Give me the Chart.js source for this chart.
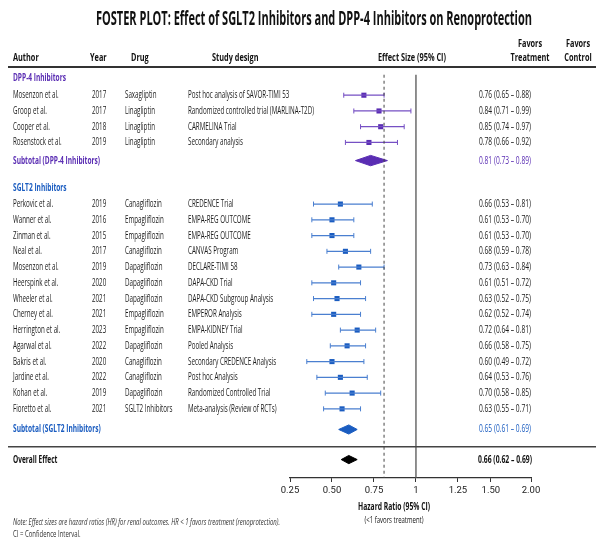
<!DOCTYPE html>
<html>
<head>
<meta charset="utf-8">
<script src="https://cdn.jsdelivr.net/npm/chart.js@4.4.0/dist/chart.umd.min.js"></script>
<style>
  html, body { margin: 0; padding: 0; background: #fff; }
  #wrap { width: 598px; height: 539px; position: relative; }
</style>
</head>
<body>
<div id="wrap"><canvas id="forest"></canvas></div>
<script>
// DPP-4 studies
const dppAuthors = ['Mosenzon et al.', 'Groop et al.', 'Cooper et al.', 'Rosenstock et al.'];
const dppYears = ['2017', '2017', '2018', '2019'];
const dppDrugs = ['Saxagliptin', 'Linagliptin', 'Linagliptin', 'Linagliptin'];
const dppDesigns = ['Post hoc analysis of SAVOR-TIMI 53', 'Randomized controlled trial (MARLINA-T2D)', 'CARMELINA Trial', 'Secondary analysis'];
const dppText = ['0.76 (0.65 – 0.88)', '0.84 (0.71 – 0.99)', '0.85 (0.74 – 0.97)', '0.78 (0.66 – 0.92)'];
// where the marks sit on the axis in the picture
const dppHR = [0.69, 0.78, 0.79, 0.72];
const dppLow = [0.57, 0.63, 0.67, 0.58];
const dppHigh = [0.81, 0.97, 0.93, 0.89];

// SGLT2 studies
const sgAuthors = ['Perkovic et al.', 'Wanner et al.', 'Zinman et al.', 'Neal et al.', 'Mosenzon et al.', 'Heerspink et al.', 'Wheeler et al.',
  'Cherney et al.', 'Herrington et al.', 'Agarwal et al.', 'Bakris et al.', 'Jardine et al.', 'Kohan et al.', 'Fioretto et al.'];
const sgYears = ['2019', '2016', '2015', '2017', '2019', '2020', '2021', '2021', '2023', '2022', '2020', '2022', '2019', '2021'];
const sgDrugs = ['Canagliflozin', 'Empagliflozin', 'Empagliflozin', 'Canagliflozin', 'Dapagliflozin', 'Dapagliflozin', 'Dapagliflozin',
  'Empagliflozin', 'Empagliflozin', 'Dapagliflozin', 'Canagliflozin', 'Canagliflozin', 'Dapagliflozin', 'SGLT2 Inhibitors'];
const sgDesigns = ['CREDENCE Trial', 'EMPA-REG OUTCOME', 'EMPA-REG OUTCOME', 'CANVAS Program', 'DECLARE-TIMI 58', 'DAPA-CKD Trial',
  'DAPA-CKD Subgroup Analysis', 'EMPEROR Analysis', 'EMPA-KIDNEY Trial', 'Pooled Analysis', 'Secondary CREDENCE Analysis',
  'Post hoc Analysis', 'Randomized Controlled Trial', 'Meta-analysis (Review of RCTs)'];
const sgText = ['0.66 (0.53 – 0.81)', '0.61 (0.53 – 0.70)', '0.61 (0.53 – 0.70)', '0.68 (0.59 – 0.78)', '0.73 (0.63 – 0.84)',
  '0.61 (0.51 – 0.72)', '0.63 (0.52 – 0.75)', '0.62 (0.52 – 0.74)', '0.72 (0.64 – 0.81)', '0.66 (0.58 – 0.75)',
  '0.60 (0.49 – 0.72)', '0.64 (0.53 – 0.76)', '0.70 (0.58 – 0.85)', '0.63 (0.55 – 0.71)'];
const sgHR = [0.55, 0.50, 0.50, 0.58, 0.66, 0.51, 0.53, 0.51, 0.65, 0.59, 0.50, 0.55, 0.62, 0.56];
const sgLow = [0.39, 0.38, 0.38, 0.47, 0.54, 0.38, 0.39, 0.38, 0.55, 0.49, 0.35, 0.41, 0.46, 0.45];
const sgHigh = [0.74, 0.63, 0.63, 0.73, 0.81, 0.67, 0.70, 0.67, 0.76, 0.70, 0.69, 0.71, 0.79, 0.67];

// pooled estimates [low, point, high]
const dppPooled = [0.64, 0.73, 0.83];
const sgPooled = [0.54, 0.60, 0.65];
const allPooled = [0.555, 0.60, 0.65];
const dppPooledText = '0.81 (0.73 – 0.89)';
const sgPooledText = '0.65 (0.61 – 0.69)';
const allPooledText = '0.66 (0.62 – 0.69)';

// axis
const tickValues = [0.25, 0.5, 0.75, 1, 1.25, 1.446, 1.685];
const tickLabels = ['0.25', '0.50', '0.75', '1', '1.25', '1.50', '2.00'];
const refDashed = 0.81;
const refNull = 1;

const PURPLE = '#5a2db3';
const PURPLE_LINE = '#7650c4';
const BLUE = '#1a5cc0';
const BLUE_LINE = '#4a7fd0';
const FONT = '"Open Sans", "Noto Sans", sans-serif';
const TICKFONT = 'Roboto, "Open Sans", sans-serif';

// row layout (in row units from top of plot area)
let r = 0.5;
const rowDppHead = r;
r += 1.1;
const dppRows = dppAuthors.map((_, i) => r + i);
r += dppAuthors.length - 1 + 1.15;
const rowDppSub = r;
r += 1.73;
const rowSgHead = r;
r += 1.03;
const sgRows = sgAuthors.map((_, i) => r + i);
r += sgAuthors.length - 1 + 1.31;
const rowSgSub = r;
const rowDivider = r + 1.09;
const rowOverall = r + 1.91;
const rowMax = 25.9;

function ciLine(lo, hi, rows) {
  const pts = [];
  rows.forEach((y, i) => {
    pts.push({ x: lo[i], y: y }, { x: hi[i], y: y }, { x: hi[i], y: null });
  });
  return pts;
}
function caps(lo, hi, rows) {
  const pts = [];
  rows.forEach((y, i) => { pts.push({ x: lo[i], y: y }, { x: hi[i], y: y }); });
  return pts;
}
function diamond(p, y, h) {
  return [{ x: p[0], y: y }, { x: p[1], y: y - h }, { x: p[2], y: y }, { x: p[1], y: y + h }, { x: p[0], y: y }];
}

// narrow text: squeeze horizontally by sx
function put(ctx, str, x, y, align, sx) {
  ctx.save();
  ctx.translate(x, y);
  ctx.scale(sx, 1);
  ctx.textAlign = align;
  ctx.fillText(str, 0, 0);
  ctx.restore();
}
function squeeze(ctx, font, sample, width) {
  ctx.font = font;
  return width / ctx.measureText(sample).width;
}

const textPlugin = {
  id: 'forestText',
  afterDraw(chart) {
    const ctx = chart.ctx;
    const ys = chart.scales.y;
    const py = v => ys.getPixelForValue(v);
    ctx.save();
    ctx.textBaseline = 'middle';

    // title
    ctx.fillStyle = '#111';
    const titleStr = 'FOSTER PLOT: Effect of SGLT2 Inhibitors and DPP-4 Inhibitors on Renoprotection';
    const sT = squeeze(ctx, 'bold 19px ' + FONT, titleStr, 436);
    put(ctx, titleStr, 314, 20, 'center', sT);

    // header
    const sH = squeeze(ctx, 'bold 10.5px ' + FONT, 'Effect Size (95% CI)', 68);
    put(ctx, 'Author', 13, 58, 'left', sH);
    put(ctx, 'Year', 90, 58, 'left', sH);
    put(ctx, 'Drug', 131, 58, 'left', sH);
    put(ctx, 'Study design', 212, 58, 'left', sH);
    put(ctx, 'Effect Size (95% CI)', 412, 58, 'center', sH);
    put(ctx, 'Favors', 530, 44, 'center', sH);
    put(ctx, 'Treatment', 530, 58, 'center', sH);
    put(ctx, 'Favors', 578, 44, 'center', sH);
    put(ctx, 'Control', 578, 58, 'center', sH);

    ctx.strokeStyle = '#333';
    ctx.lineWidth = 2;
    ctx.beginPath(); ctx.moveTo(8, 67); ctx.lineTo(596, 67); ctx.stroke();

    // group headers
    const sG = squeeze(ctx, 'bold 10.5px ' + FONT, 'Subtotal (DPP-4 Inhibitors)', 87);
    ctx.fillStyle = PURPLE;
    put(ctx, 'DPP-4 Inhibitors', 13, py(rowDppHead), 'left', sG);
    put(ctx, 'Subtotal (DPP-4 Inhibitors)', 13, py(rowDppSub), 'left', sG);
    ctx.fillStyle = BLUE;
    put(ctx, 'SGLT2 Inhibitors', 13, py(rowSgHead), 'left', sG);
    put(ctx, 'Subtotal (SGLT2 Inhibitors)', 13, py(rowSgSub), 'left', sG);
    ctx.fillStyle = '#111';
    put(ctx, 'Overall Effect', 13, py(rowOverall), 'left', sG);

    // study rows
    const rowFont = '10.5px ' + FONT;
    const sR = squeeze(ctx, rowFont, 'Randomized controlled trial (MARLINA-T2D)', 126);
    const sV = squeeze(ctx, rowFont, '0.76 (0.65 – 0.88)', 52);
    function rows(authors, years, drugs, designs, texts, yRows) {
      ctx.font = rowFont;
      ctx.fillStyle = '#1a1a1a';
      yRows.forEach((y, i) => {
        const p = py(y);
        put(ctx, authors[i], 13, p, 'left', sR);
        put(ctx, years[i], 92, p, 'left', sR);
        put(ctx, drugs[i], 125, p, 'left', sR);
        put(ctx, designs[i], 188, p, 'left', sR);
        put(ctx, texts[i], 505, p, 'center', sV);
      });
    }
    rows(dppAuthors, dppYears, dppDrugs, dppDesigns, dppText, dppRows);
    rows(sgAuthors, sgYears, sgDrugs, sgDesigns, sgText, sgRows);

    ctx.font = rowFont;
    ctx.fillStyle = PURPLE;
    put(ctx, dppPooledText, 505, py(rowDppSub), 'center', sV);
    ctx.fillStyle = BLUE;
    put(ctx, sgPooledText, 505, py(rowSgSub), 'center', sV);
    ctx.fillStyle = '#111';
    const sVB = squeeze(ctx, 'bold 10.5px ' + FONT, allPooledText, 54);
    put(ctx, allPooledText, 505, py(rowOverall), 'center', sVB);

    ctx.strokeStyle = '#444';
    ctx.lineWidth = 1.5;
    ctx.beginPath(); ctx.moveTo(8, py(rowDivider)); ctx.lineTo(596, py(rowDivider)); ctx.stroke();

    // axis title
    ctx.fillStyle = '#111';
    const sA = squeeze(ctx, 'bold 10.5px ' + FONT, 'Hazard Ratio (95% CI)', 72);
    put(ctx, 'Hazard Ratio (95% CI)', 394, 507, 'center', sA);
    const sA2 = squeeze(ctx, '9.5px ' + FONT, '(<1 favors treatment)', 59);
    put(ctx, '(<1 favors treatment)', 394, 520, 'center', sA2);

    // notes
    ctx.fillStyle = '#333';
    const noteStr = 'Note: Effect sizes are hazard ratios (HR) for renal outcomes. HR < 1 favors treatment (renoprotection).';
    const sN = squeeze(ctx, 'italic 8.5px ' + FONT, noteStr, 267);
    put(ctx, noteStr, 13, 523, 'left', sN);
    ctx.font = '8.5px ' + FONT;
    put(ctx, 'CI = Confidence Interval.', 13, 535, 'left', sN);
    ctx.restore();
  }
};

new Chart(document.getElementById('forest'), {
  type: 'scatter',
  data: {
    datasets: [
      { type: 'line', data: [{ x: refDashed, y: 0.3 }, { x: refDashed, y: rowMax }], borderColor: '#444', borderWidth: 1, borderDash: [3, 3], pointRadius: 0 },
      { type: 'line', data: [{ x: refNull, y: 0.3 }, { x: refNull, y: rowMax }], borderColor: '#555', borderWidth: 1.3, pointRadius: 0 },
      { type: 'line', data: ciLine(dppLow, dppHigh, dppRows), borderColor: PURPLE_LINE, borderWidth: 1.2, pointRadius: 0, spanGaps: false },
      { type: 'line', data: ciLine(sgLow, sgHigh, sgRows), borderColor: BLUE_LINE, borderWidth: 1.2, pointRadius: 0, spanGaps: false },
      { data: caps(dppLow, dppHigh, dppRows), pointStyle: 'line', rotation: 90, radius: 2.5, borderColor: PURPLE_LINE, borderWidth: 1 },
      { data: caps(sgLow, sgHigh, sgRows), pointStyle: 'line', rotation: 90, radius: 2.5, borderColor: BLUE_LINE, borderWidth: 1 },
      { data: dppRows.map((y, i) => ({ x: dppHR[i], y: y })), pointStyle: 'rect', radius: 3.6, backgroundColor: PURPLE, borderColor: PURPLE, borderWidth: 0 },
      { data: sgRows.map((y, i) => ({ x: sgHR[i], y: y })), pointStyle: 'rect', radius: 3.6, backgroundColor: BLUE, borderColor: BLUE, borderWidth: 0 },
      { type: 'line', data: diamond(dppPooled, rowDppSub, 0.33), borderColor: PURPLE, backgroundColor: PURPLE, borderWidth: 1, pointRadius: 0, fill: 'shape' },
      { type: 'line', data: diamond(sgPooled, rowSgSub, 0.29), borderColor: BLUE, backgroundColor: BLUE, borderWidth: 1, pointRadius: 0, fill: 'shape' },
      { type: 'line', data: diamond(allPooled, rowOverall, 0.26), borderColor: '#000', backgroundColor: '#000', borderWidth: 1, pointRadius: 0, fill: 'shape' }
    ]
  },
  options: {
    animation: false,
    responsive: true,
    maintainAspectRatio: false,
    layout: { padding: { left: 290, right: 67, top: 70, bottom: 39 } },
    plugins: { legend: { display: false }, tooltip: { enabled: false } },
    scales: {
      x: {
        type: 'linear',
        min: 0.25,
        max: 1.685,
        afterBuildTicks: s => { s.ticks = tickValues.map(v => ({ value: v })); },
        afterFit: s => { s.height = 22; },
        ticks: {
          callback: (v, i) => tickLabels[i],
          font: { family: TICKFONT, size: 9.5 },
          color: '#222',
          padding: 3,
          maxRotation: 0,
          autoSkip: false
        },
        grid: { drawOnChartArea: false, drawTicks: true, tickLength: 4, color: '#333' },
        border: { display: true, color: '#333', width: 1.2 }
      },
      y: { type: 'linear', reverse: true, min: 0, max: rowMax, display: false }
    }
  },
  plugins: [textPlugin]
});
</script>
</body>
</html>
